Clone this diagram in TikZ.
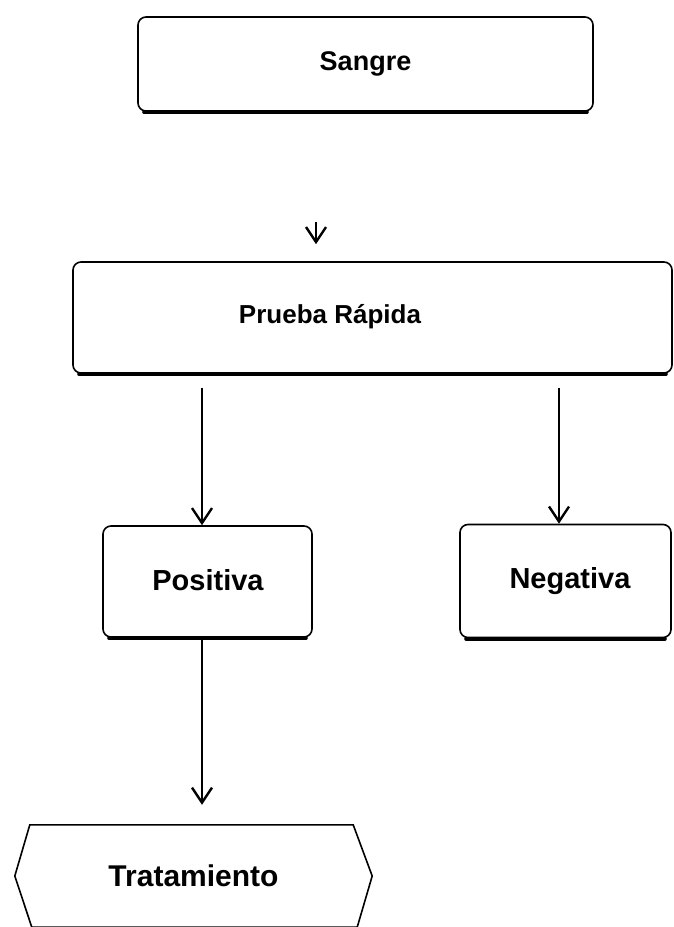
\documentclass[tikz,border=0pt]{standalone}
\usepackage{fontspec}
\setmainfont{Liberation Sans}
\usetikzlibrary{arrows.meta,calc}
\begin{document}
\begin{tikzpicture}[x=1pt,y=-1pt,
  box/.style={draw, line width=1.6pt, rounded corners=8pt, inner sep=0pt},
  lbl/.style={font=\fontsize{#1}{#1}\selectfont\bfseries, inner sep=0pt},
  conn/.style={line width=1.5pt, -{Straight Barb[length=15pt,width=20pt,line width=2.4pt]}},
  shade/.style={line width=4pt, line cap=round},
]
\useasboundingbox (0,0) rectangle (674,927);

% boxes
\node[box, lbl=27, minimum width=455pt, minimum height=94pt] (sangre) at (365.5,64) {Sangre};
\node[box, minimum width=599pt, minimum height=111pt] (prueba) at (372.5,317.5) {};
\node[lbl=26] (pruebatxt) at (330,317) {Prueba Rápida};
\node[box, minimum width=209pt, minimum height=111pt] (positiva) at (207.5,581.5) {};
\node[lbl=29] (positivatxt) at (208,580) {Positiva};
\node[box, minimum width=211pt, minimum height=113pt] (negativa) at (565.5,581) {};
\node[lbl=29] (negativatxt) at (570,581) {Negativa};
\node[lbl=30, minimum width=357pt, minimum height=102pt] (trat) at (193.5,876) {Tratamiento};
\draw[line width=1.6pt] ($(trat.north west)+(15,0)$) -- ($(trat.north east)+(-19,0)$) -- (trat.east)
  -- ($(trat.south east)+(-15,0)$) -- ($(trat.south west)+(17,0)$) -- (trat.west) -- cycle;

% thick lower edges
\foreach \n in {sangre,prueba,positiva,negativa}
  \draw[shade] ($(\n.south west)+(7,0.5)$) -- ($(\n.south east)+(-7,0.5)$);

% connectors
\coordinate (top) at (316,222);
\coordinate (xp) at (202,0);
\coordinate (xn) at (559,0);
\draw[conn, shorten >=17pt] (top) -- (top |- prueba.north);
\draw[conn, shorten <=14pt] (prueba.south -| xp) -- (positiva.north -| xp);
\draw[conn, shorten <=14pt] (prueba.south -| xn) -- (negativa.north -| xn);
\draw[conn, shorten >=20pt] (positiva.south -| xp) -- (trat.north -| xp);
\end{tikzpicture}
\end{document}
